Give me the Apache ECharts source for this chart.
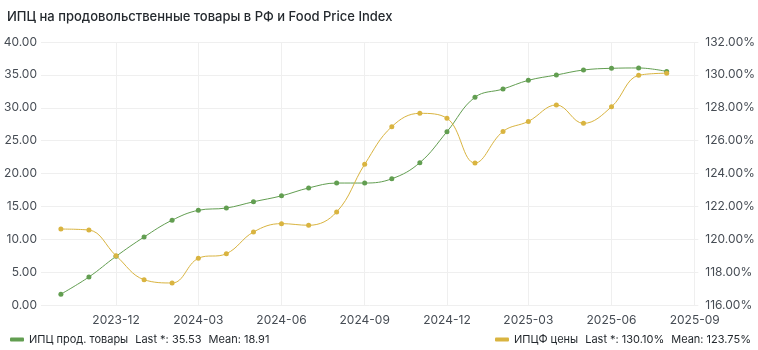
<!DOCTYPE html>
<html>
<head>
<meta charset="utf-8">
<script src="https://cdn.jsdelivr.net/npm/echarts@6/dist/echarts.min.js"></script>
<style>
    html, body { margin: 0; padding: 0; background: #fff; }
    #chart { width: 758px; height: 350px; }
</style>
</head>
<body>
<div id="chart"></div>
<script>
// monthly points, first day of month
const months = [
    '2023-10', '2023-11', '2023-12',
    '2024-01', '2024-02', '2024-03', '2024-04', '2024-05', '2024-06',
    '2024-07', '2024-08', '2024-09', '2024-10', '2024-11', '2024-12',
    '2025-01', '2025-02', '2025-03', '2025-04', '2025-05', '2025-06',
    '2025-07', '2025-08'
];
const cpiFood = [
    1.65, 4.26, 7.4,
    10.34, 12.9, 14.4, 14.75, 15.7, 16.6,
    17.8, 18.55, 18.55, 19.2, 21.65, 26.36,
    31.6, 32.85, 34.17, 34.98, 35.74, 36.0,
    36.05, 35.53
];
const foodIndex = [
    120.62, 120.56, 119.0,
    117.54, 117.34, 118.84, 119.12, 120.44, 120.95,
    120.85, 121.66, 124.56, 126.85, 127.66, 127.36,
    124.64, 126.56, 127.17, 128.17, 127.05, 128.06,
    129.97, 130.10
];
const tickLabels = ['2023-12', '2024-03', '2024-06', '2024-09', '2024-12', '2025-03', '2025-06', '2025-09'];

const cpiName = 'ИПЦ прод. товары';
const fpiName = 'ИПЦФ цены';
const cpiStats = ['Last *: 35.53', 'Mean: 18.91'];
const fpiStats = ['Last *: 130.10%', 'Mean: 123.75%'];

const GREEN = '#629E51';
const YELLOW = '#D9B440';
const TEXT = '#24292e';
const AXIS_TEXT = '#464c54';
const GRID = '#efefef';
const FONT = 'Inter, "Noto Sans", sans-serif';

const toTime = function (m) {
    let p = m.split('-');
    return new Date(+p[0], +p[1] - 1, 1).getTime();
};
const tickValues = tickLabels.map(toTime);

const legendFor = function (name, stats, left) {
    return {
        data: [name],
        left: left,
        top: 329,
        icon: 'roundRect',
        itemWidth: 14,
        itemHeight: 4,
        itemGap: 0,
        textStyle: {
            fontFamily: FONT,
            fontSize: 11,
            color: TEXT,
            rich: {
                s: { fontFamily: FONT, fontSize: 11, color: TEXT, padding: [0, 0, 0, 7] }
            }
        },
        formatter: function (n) {
            return n + '{s|' + stats[0] + '}{s|' + stats[1] + '}';
        }
    };
};

const chart = echarts.init(document.getElementById('chart'), null, { renderer: 'canvas' });
chart.setOption({
    backgroundColor: '#fff',
    animation: false,
    textStyle: { fontFamily: FONT },
    title: {
        text: 'ИПЦ на продовольственные товары в РФ и Food Price Index',
        left: 2,
        top: 6,
        textStyle: {
            fontFamily: FONT,
            fontSize: 13,
            fontWeight: 500,
            color: TEXT
        }
    },
    legend: [
        legendFor(cpiName, cpiStats, 5),
        legendFor(fpiName, fpiStats, 490)
    ],
    grid: {
        left: 41,
        right: 58,
        top: 42,
        bottom: 45
    },
    xAxis: {
        type: 'time',
        min: new Date(2023, 8, 9).getTime(),
        max: new Date(2025, 8, 5).getTime(),
        axisLine: { show: false },
        axisTick: { show: false, customValues: tickValues },
        axisLabel: {
            customValues: tickValues,
            formatter: '{yyyy}-{MM}',
            color: AXIS_TEXT,
            fontSize: 12,
            fontFamily: FONT,
            margin: 9
        },
        splitLine: {
            show: true,
            lineStyle: { color: GRID, width: 1 }
        }
    },
    yAxis: [{
        type: 'value',
        min: 0,
        max: 40,
        interval: 5,
        axisLine: { show: false },
        axisTick: { show: false },
        axisLabel: {
            color: AXIS_TEXT,
            fontSize: 12,
            fontFamily: FONT,
            margin: 4,
            formatter: function (v) { return v.toFixed(2); }
        },
        splitLine: {
            lineStyle: { color: GRID, width: 1 }
        }
    }, {
        type: 'value',
        position: 'right',
        min: 116,
        max: 132,
        interval: 2,
        axisLine: { show: false },
        axisTick: { show: false },
        axisLabel: {
            color: AXIS_TEXT,
            fontSize: 12,
            fontFamily: FONT,
            margin: 7,
            formatter: function (v) { return v.toFixed(2) + '%'; }
        },
        splitLine: { show: false }
    }],
    series: [{
        name: cpiName,
        type: 'line',
        yAxisIndex: 0,
        smooth: 0.4,
        symbol: 'circle',
        symbolSize: 5,
        color: GREEN,
        lineStyle: { width: 1, color: GREEN },
        itemStyle: { color: GREEN },
        data: months.map((m, i) => [toTime(m), cpiFood[i]])
    }, {
        name: fpiName,
        type: 'line',
        yAxisIndex: 1,
        smooth: 0.4,
        symbol: 'circle',
        symbolSize: 5,
        color: YELLOW,
        lineStyle: { width: 1, color: YELLOW },
        itemStyle: { color: YELLOW },
        data: months.map((m, i) => [toTime(m), foodIndex[i]])
    }]
});
</script>
</body>
</html>
